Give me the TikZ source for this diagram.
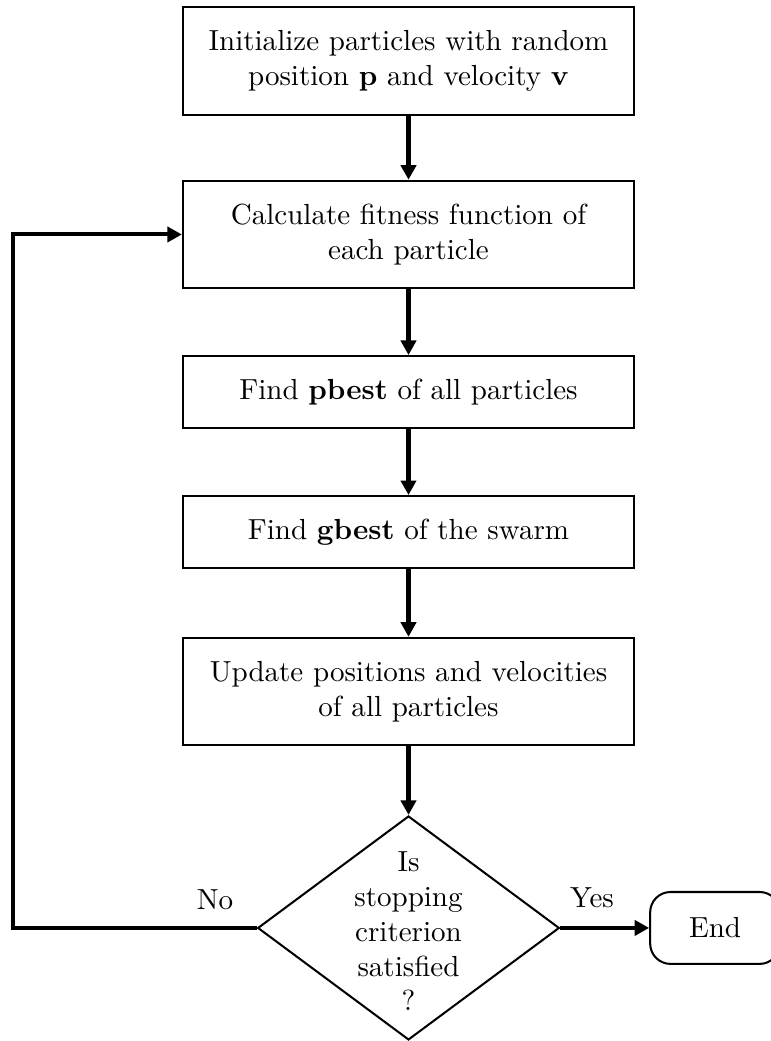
\documentclass[tikz,border=0pt]{standalone}
\usepackage{amsmath}
\usepackage{tikz}
\usetikzlibrary{positioning, arrows.meta, shapes.geometric}

\begin{document}
\begin{tikzpicture}[>={Triangle[length=5pt, width=5.2pt]},
  procbox/.style={draw, line width=0.7pt, minimum width=5.46cm, align=center, inner sep=0pt},
  decision/.style={draw, diamond, line width=0.7pt, minimum width=3.65cm, minimum height=2.71cm, inner sep=0pt},
  terminal/.style={draw, rectangle, rounded corners=7pt, line width=0.7pt, minimum width=1.57cm, minimum height=0.87cm},
  flow/.style={->, line width=1.4pt}]

\useasboundingbox (-4.943, 0.738) rectangle (4.386, -11.858);

% --- Process steps ---
\node[procbox, minimum height=1.31cm] (init) at (0, 0)
  {Initialize particles with random\\ position $\mathbf{p}$ and velocity $\mathbf{v}$};
\node[procbox, minimum height=1.30cm] (fitness) at (0, -2.099)
  {Calculate fitness function of\\ each particle};
\node[procbox, minimum height=0.87cm] (pbest) at (0, -4.005)
  {Find \textbf{pbest} of all particles};
\node[procbox, minimum height=0.87cm] (gbest) at (0, -5.699)
  {Find \textbf{gbest} of the swarm};
\node[procbox, minimum height=1.30cm] (update) at (0, -7.629)
  {Update positions and velocities\\ of all particles};

% --- Stopping test and end ---
\node[decision] (stop) at (0, -10.49) {};
\node[align=center, inner sep=0pt] (stoptext) at (0, -10.53)
  {Is\\ stopping\\ criterion\\ satisfied\\ ?};
\node[terminal] (finish) at (3.709, -10.49) {End};

% --- Loop back corner ---
\coordinate (loopA) at (-4.785, -10.49);
\coordinate (loopB) at (-4.785, -2.099);

% --- Connectors ---
\draw[flow] (init) -- (fitness);
\draw[flow] (fitness) -- (pbest);
\draw[flow] (pbest) -- (gbest);
\draw[flow] (gbest) -- (update);
\draw[flow] (update) -- (stop);
\draw[flow] (stop.east) -- (finish.west);
\draw[flow] (stop.west) -- (loopA) -- (loopB) -- (fitness.west);

% --- Branch labels ---
\node (nolab) at (-2.341, -10.15) {No};
\node (yeslab) at (2.220, -10.12) {Yes};

\end{tikzpicture}
\end{document}
